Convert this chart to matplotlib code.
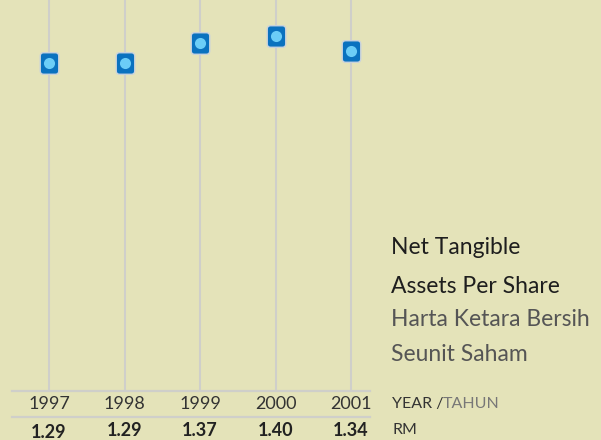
import matplotlib.pyplot as plt
from matplotlib.patches import BoxStyle
from matplotlib.transforms import blended_transform_factory

years = [1997, 1998, 1999, 2000, 2001]
nta = [1.29, 1.29, 1.37, 1.40, 1.34]
value_labels = ["1.29", "1.29", "1.37", "1.40", "1.34"]

BG = "#E4E3B9"
GRID = "#CFCFCA"
DARK_BLUE = "#0A72BF"
LIGHT_BLUE = "#6CCDF7"

plt.rcParams['font.family'] = ['Lato', 'DejaVu Sans']

fig = plt.figure(figsize=(6.01, 4.40), dpi=100, facecolor=BG)
ax = fig.add_axes([12 / 601, 1 - 391 / 440, 358 / 601, 391 / 440])
ax.set_facecolor(BG)
ax.set_xlim(1997 - 0.49, 2001 + 0.25)
ax.set_ylim(0, 1.54)
for s in ax.spines.values():
    s.set_visible(False)
ax.set_xticks([])
ax.set_yticks([])

for y in years:
    ax.axvline(y, color=GRID, lw=1.5, zorder=1)

# rounded-square marker
rbox = BoxStyle.Round(pad=0, rounding_size=0.16)(-0.43, -0.5, 0.86, 1.0, 1.0)
ax.plot(years, nta, ls="none", marker=rbox, markersize=15.5,
        markerfacecolor=DARK_BLUE, markeredgecolor="#C9D3DE", markeredgewidth=1.0, zorder=3)
ax.plot(years, nta, ls="none", marker="o", markersize=8,
        markerfacecolor=LIGHT_BLUE, markeredgecolor="none", zorder=4)

# bottom table lines
fig.add_artist(plt.Line2D([12 / 601, 370 / 601], [1 - 391 / 440] * 2, color=GRID, lw=1.6))
fig.add_artist(plt.Line2D([12 / 601, 370 / 601], [1 - 417 / 440] * 2, color=GRID, lw=1.6))

tr = blended_transform_factory(ax.transData, fig.transFigure)
for i, y in enumerate(years):
    ax.text(y, 1 - 404 / 440, str(y), transform=tr, ha="center", va="center",
            fontsize=13, color="#333333")
    dy = 2 if i == 0 else 0
    ax.text(y, 1 - (430 + dy) / 440, value_labels[i], transform=tr, ha="center", va="center",
            fontsize=13, fontweight="bold", color="#222222")

fig.text(392 / 601, 1 - 404 / 440, "YEAR /", ha="left", va="center", fontsize=11.5, color="#333333")
fig.text(443 / 601, 1 - 404 / 440, "TAHUN", ha="left", va="center", fontsize=11.5, color="#777777")
fig.text(392 / 601, 1 - 430 / 440, "RM", ha="left", va="center", fontsize=11.5, color="#333333")

title_lines = [("Net Tangible", "#1E1E1E", 248), ("Assets Per Share", "#1E1E1E", 286),
               ("Harta Ketara Bersih", "#555555", 319), ("Seunit Saham", "#555555", 354)]
for txt, col, ypx in title_lines:
    fig.text(391 / 601, 1 - ypx / 440, txt, ha="left", va="center", fontsize=16.5, color=col)

fig.savefig("out.png", dpi=100, facecolor=BG)
